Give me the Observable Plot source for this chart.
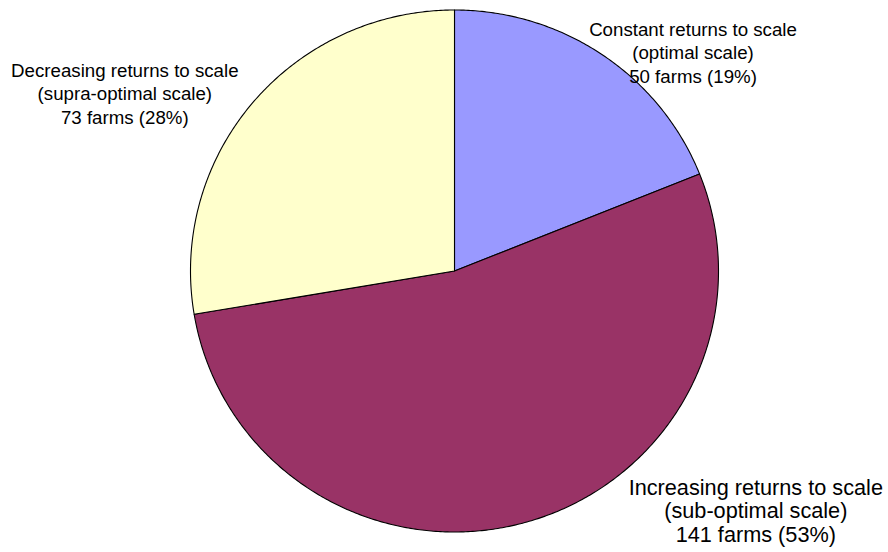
<!DOCTYPE html>
<html>
<head>
<meta charset="utf-8">
<script src="https://cdn.jsdelivr.net/npm/d3@7"></script>
<script src="https://cdn.jsdelivr.net/npm/@observablehq/plot@0.6"></script>
<style>
  html, body { margin: 0; padding: 0; background: #ffffff; }
  #chart { width: 888px; height: 552px; }
</style>
</head>
<body>
<div id="chart"></div>
<script>
// ---- data ----
const categories = ["Constant returns to scale", "Increasing returns to scale", "Decreasing returns to scale"];
const scaleNotes = ["optimal scale", "sub-optimal scale", "supra-optimal scale"];
const farms = [50, 141, 73];
const percents = [19, 53, 28];
const sliceColors = ["#9999FF", "#993366", "#FFFFCC"];

// ---- build slices with d3.pie (clockwise from 12 o'clock) ----
const rows = categories.map((c, i) => ({category: c, note: scaleNotes[i], farms: farms[i], pct: percents[i]}));
const arcs = d3.pie().value(d => d.farms).sort(null)(rows);

const wedgePts = [];
for (const a of arcs) {
  const n = Math.max(2, Math.ceil((a.endAngle - a.startAngle) / (Math.PI / 360)));
  for (let k = 0; k <= n; k++) {
    const t = a.startAngle + (a.endAngle - a.startAngle) * k / n;
    wedgePts.push({category: a.data.category, cx: 0, cy: 0, x: Math.sin(t), y: Math.cos(t)});
  }
}

const labelText = d => `${d.category}\n(${d.note})\n${d.farms} farms (${d.pct}%)`;

// layout of the three labels (pixel offsets from the frame's top-left)
const labelLayout = [
  {dx: 692.5, dy: 18.8, fontSize: 18.7, lineHeight: 1.257},
  {dx: 755.3, dy: 477.3, fontSize: 21.7, lineHeight: 1.094},
  {dx: 124.3, dy: 59.7, fontSize: 18.7, lineHeight: 1.257}
];

const chart = Plot.plot({
  width: 888,
  height: 552,
  margin: 0,
  style: {fontFamily: "'Liberation Sans', Arial, sans-serif", background: "#ffffff"},
  x: {domain: [-1, 1], range: [190.5, 718.5], axis: null},
  y: {domain: [-1, 1], range: [532, 10], axis: null},
  color: {domain: categories, range: sliceColors},
  marks: [
    Plot.area(wedgePts, {
      x1: "cx", y1: "cy", x2: "x", y2: "y",
      z: "category", fill: "category",
      stroke: "#000000", strokeWidth: 1.1, strokeLinejoin: "round",
      curve: "linear"
    }),
    ...rows.map((r, i) => Plot.text([r], {
      text: labelText,
      frameAnchor: "top-left",
      dx: labelLayout[i].dx,
      dy: labelLayout[i].dy,
      textAnchor: "middle",
      lineAnchor: "top",
      lineHeight: labelLayout[i].lineHeight,
      fontSize: labelLayout[i].fontSize,
      fill: "#000000"
    }))
  ]
});

document.getElementById("chart").appendChild(chart);
</script>
</body>
</html>
